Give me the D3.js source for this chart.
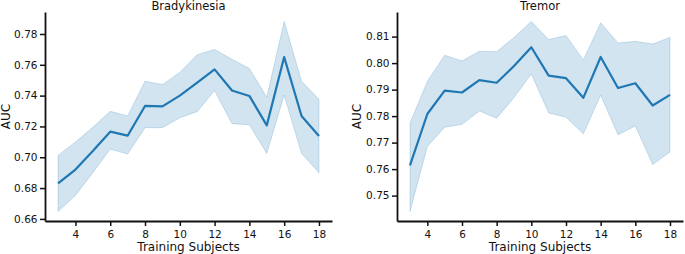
<!DOCTYPE html>
<html><head><meta charset="utf-8">
<script src="https://cdn.jsdelivr.net/npm/d3@7"></script>
<style>
body{margin:0;background:#fff;}
svg{display:block;font-family:"DejaVu Sans",sans-serif;}
</style></head>
<body><svg id="c" width="685" height="254"></svg>
<script>
const subjects = [3,4,5,6,7,8,9,10,11,12,13,14,15,16,17,18];
const bradyMean  = [0.683,0.692,0.704,0.7166,0.714,0.7333,0.733,0.740,0.7485,0.757,0.7433,0.7398,0.7207,0.765,0.7268,0.7138];
const bradyUpper = [0.7012,0.7099,0.7194,0.7298,0.7268,0.7493,0.7472,0.755,0.7665,0.770,0.7636,0.7576,0.7389,0.7881,0.7493,0.7376];
const bradyLower = [0.6648,0.6752,0.690,0.7053,0.7021,0.7192,0.7192,0.7257,0.7296,0.7433,0.7218,0.7211,0.7025,0.7404,0.7025,0.6899];
const tremorMean  = [0.7614,0.7808,0.7896,0.7889,0.7936,0.7926,0.7989,0.8060,0.7953,0.7943,0.7869,0.8023,0.7906,0.7924,0.7840,0.7880];
const tremorUpper = [0.7774,0.7931,0.8030,0.8008,0.8045,0.8043,0.8097,0.8157,0.8089,0.8104,0.8012,0.8152,0.8076,0.8082,0.8072,0.8097];
const tremorLower = [0.7440,0.7685,0.7758,0.7769,0.7819,0.7792,0.7870,0.7959,0.7812,0.7796,0.7733,0.7879,0.7730,0.7763,0.7617,0.7665];
const xTicks = [4,6,8,10,12,14,16,18];
const bradyTicks = [0.66,0.68,0.70,0.72,0.74,0.76,0.78];
const tremorTicks = [0.75,0.76,0.77,0.78,0.79,0.80,0.81];

const svg = d3.select("#c");
const lineColor = "#1f77b4";

function panel(o){
  const g = svg.append("g");
  const x = d3.scaleLinear().domain([2.25,18.75]).range([o.left,o.right]);
  const lo = d3.min(o.lower), hi = d3.max(o.upper), pad = (hi-lo)*0.05;
  const y = d3.scaleLinear().domain([lo-pad,hi+pad]).range([o.bottom,o.top]);
  const data = subjects.map((s,i)=>({s,m:o.mean[i],u:o.upper[i],l:o.lower[i]}));
  g.append("path").datum(data)
    .attr("d", d3.area().x(d=>x(d.s)).y0(d=>y(d.l)).y1(d=>y(d.u)))
    .attr("fill","rgba(31,119,180,0.2)").attr("stroke","rgba(31,119,180,0.2)").attr("stroke-width",1);
  g.append("path").datum(data)
    .attr("d", d3.line().x(d=>x(d.s)).y(d=>y(d.m)))
    .attr("fill","none").attr("stroke",lineColor).attr("stroke-width",2.2).attr("stroke-linejoin","round");
  const xa = g.append("g").attr("transform",`translate(0,${o.bottom})`)
    .call(d3.axisBottom(x).tickValues(xTicks).tickFormat(d3.format("d")).tickSize(5).tickSizeOuter(0));
  const ya = g.append("g").attr("transform",`translate(${o.left},0)`)
    .call(d3.axisLeft(y).tickValues(o.ticks).tickFormat(d3.format(o.fmt)).tickSize(5).tickSizeOuter(0));
  [xa,ya].forEach(a=>{
    a.select(".domain").attr("stroke","#111").attr("stroke-width",1.8);
    a.selectAll(".tick line").attr("stroke","#111").attr("stroke-width",1.5);
    a.selectAll(".tick text").attr("font-size",10.5).attr("fill","#111").attr("font-family","DejaVu Sans");
  });
  xa.selectAll(".tick text").attr("dy",0).attr("y",16.5);
  ya.selectAll(".tick text").attr("x",-7.5);
  g.append("text").attr("x",(o.left+o.right)/2).attr("y",10).attr("text-anchor","middle")
    .attr("font-size",11.5).attr("fill","#111").text(o.title);
  g.append("text").attr("x",(o.left+o.right)/2).attr("y",251).attr("text-anchor","middle")
    .attr("font-size",12).attr("fill","#111").text("Training Subjects");
  g.append("text").attr("transform",`translate(${o.ylabX},${(o.top+o.bottom)/2}) rotate(-90)`)
    .attr("text-anchor","middle").attr("font-size",12).attr("fill","#111").text("AUC");
}

panel({left:45,right:332,top:12,bottom:221,title:"Bradykinesia",mean:bradyMean,upper:bradyUpper,lower:bradyLower,ticks:bradyTicks,fmt:".2f",ylabX:10});
panel({left:397,right:683,top:12,bottom:221,title:"Tremor",mean:tremorMean,upper:tremorUpper,lower:tremorLower,ticks:tremorTicks,fmt:".2f",ylabX:360.5});
</script></body></html>
